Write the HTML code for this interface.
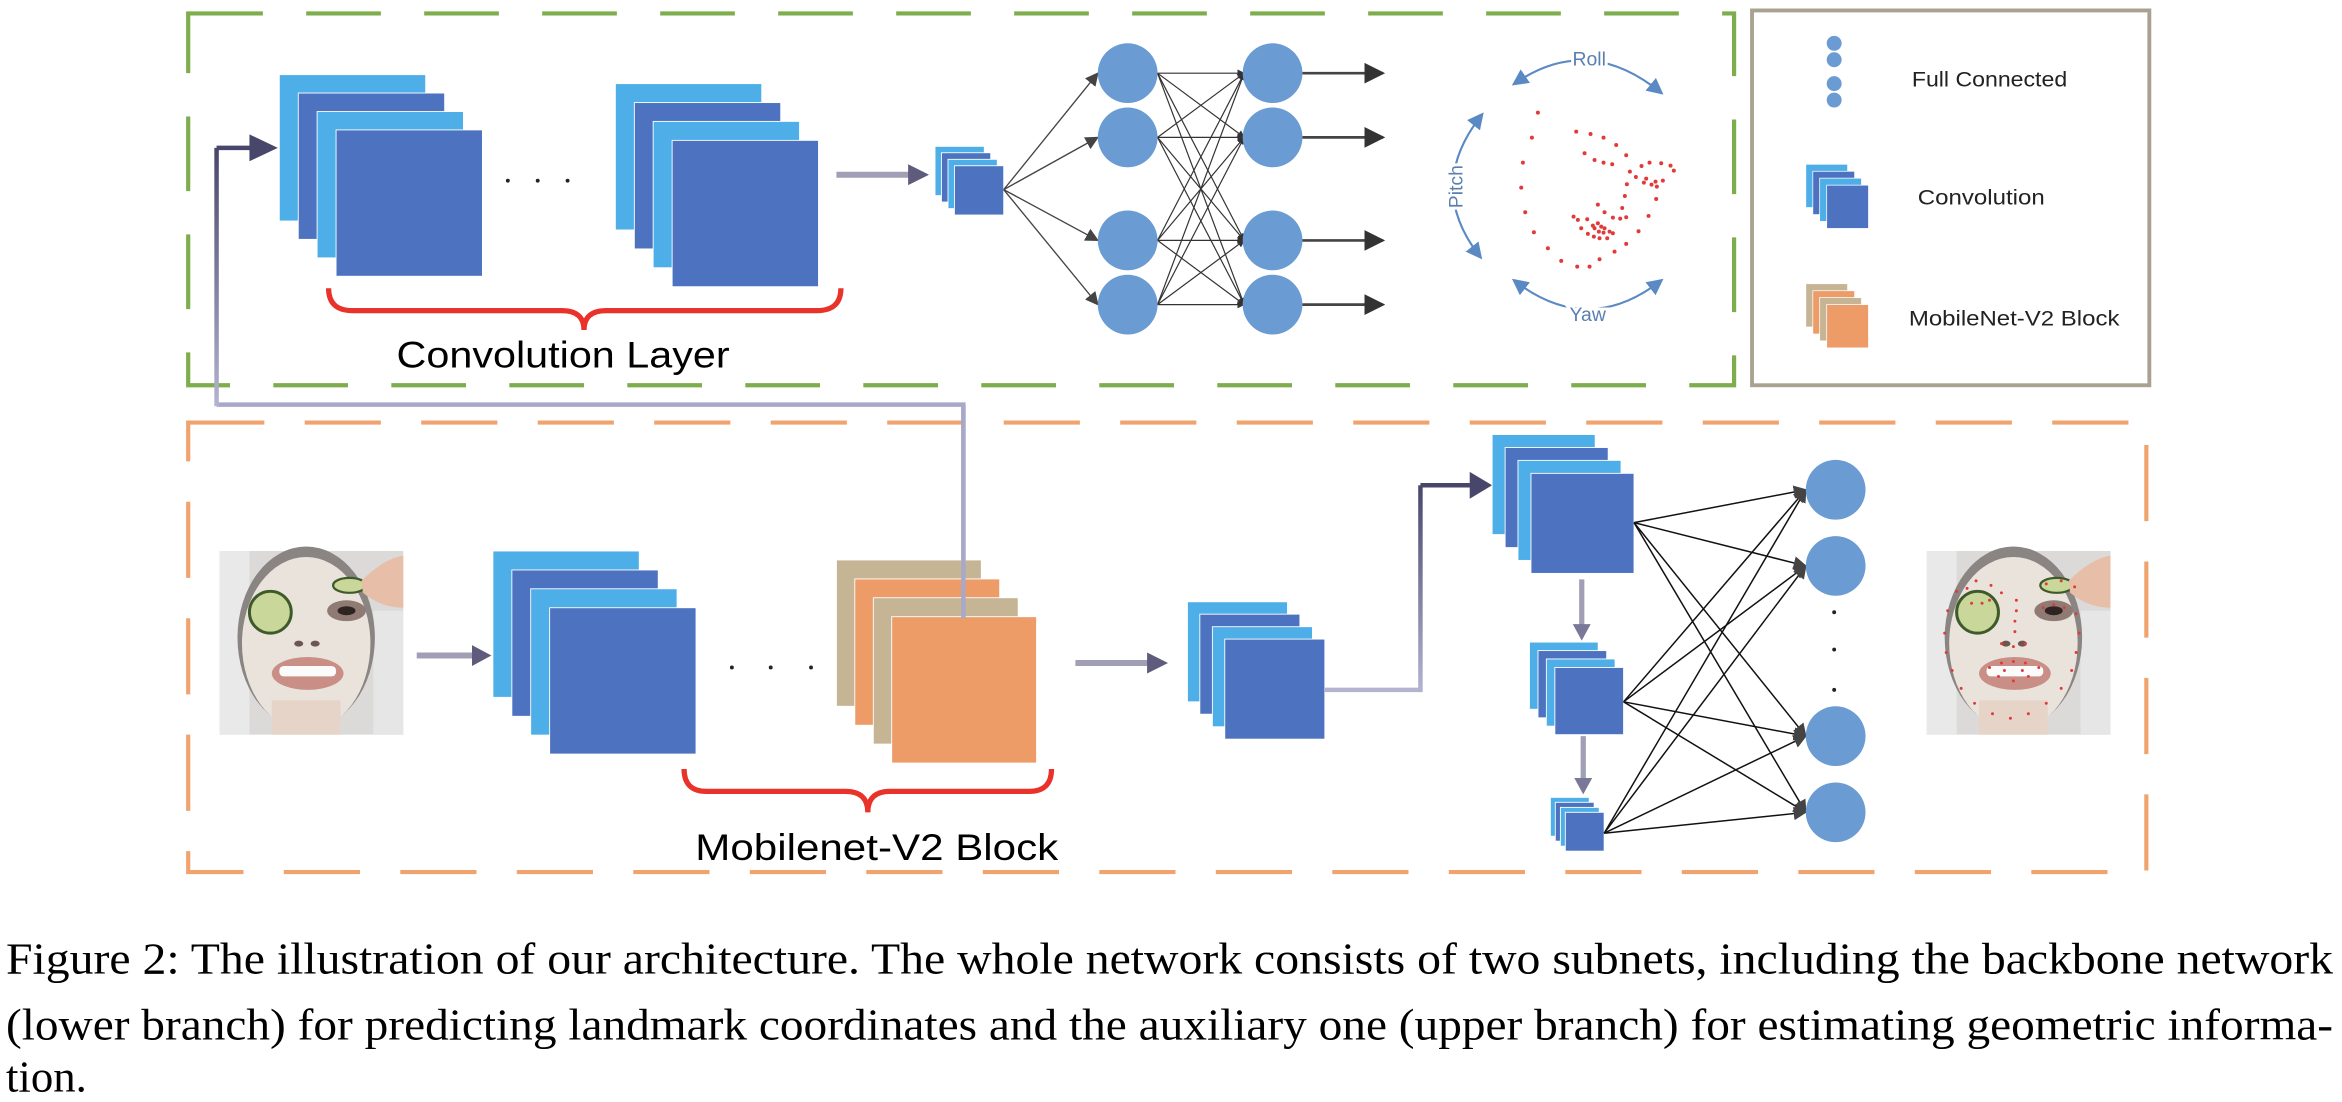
<!DOCTYPE html>
<html><head><meta charset="utf-8"><style>html,body{margin:0;padding:0;background:#fff}svg{display:block}</style></head>
<body>
<svg width="2342" height="1102" viewBox="0 0 1568 738" preserveAspectRatio="none" xmlns="http://www.w3.org/2000/svg">
<defs>
<marker id="ah" viewBox="0 0 10 10" refX="9" refY="5" markerWidth="5" markerHeight="5" orient="auto" markerUnits="userSpaceOnUse"><path d="M0,0 L10,5 L0,10 z" fill="#333"/></marker>
<marker id="ahs" viewBox="0 0 10 10" refX="9" refY="5" markerWidth="9" markerHeight="9" orient="auto" markerUnits="userSpaceOnUse"><path d="M0,0 L10,5 L0,10 z" fill="#444"/></marker>
<marker id="ahb" viewBox="0 0 10 10" refX="9" refY="5" markerWidth="14" markerHeight="14" orient="auto" markerUnits="userSpaceOnUse"><path d="M0,0 L10,5 L0,10 z" fill="#333"/></marker>
<marker id="ahblue" viewBox="0 0 10 10" refX="8" refY="5" markerWidth="11" markerHeight="11" orient="auto-start-reverse" markerUnits="userSpaceOnUse"><path d="M0,0 L10,5 L0,10 z" fill="#5a89c4"/></marker>
<linearGradient id="gv" x1="0" y1="1" x2="0" y2="0"><stop offset="0" stop-color="#b4b3d0"/><stop offset="1" stop-color="#48466b"/></linearGradient>
<linearGradient id="gv2" x1="0" y1="0" x2="0" y2="1"><stop offset="0" stop-color="#48466b"/><stop offset="1" stop-color="#b4b3d0"/></linearGradient>
<g id="face">
  <rect x="0" y="0" width="123" height="123" fill="#dcdad9"/>
  <rect x="0" y="0" width="20" height="123" fill="#e9e9e9"/>
  <rect x="103" y="40" width="20" height="83" fill="#e6e6e6"/>
  <ellipse cx="58" cy="58" rx="46" ry="61" fill="#8a8482"/>
  <ellipse cx="58" cy="62" rx="43" ry="58" fill="#e9e3dc"/>
  <rect x="35" y="100" width="46" height="23" fill="#e6d4c8"/>
  <circle cx="34" cy="41" r="14" fill="#c9d79b" stroke="#3f5a2a" stroke-width="2"/>
  <ellipse cx="87" cy="23" rx="11" ry="5" fill="#c9d79b" stroke="#3f5a2a" stroke-width="1.5"/>
  <path d="M95,20 Q110,5 123,3 L123,38 Q108,38 96,28 z" fill="#e7bfa8"/>
  <ellipse cx="85" cy="40" rx="13" ry="7" fill="#8f7a74"/>
  <ellipse cx="85" cy="40" rx="6" ry="3" fill="#2e2422"/>
  <ellipse cx="53" cy="62" rx="3" ry="2" fill="#6d5550"/><ellipse cx="64" cy="62" rx="3" ry="2" fill="#6d5550"/>
  <ellipse cx="59" cy="82" rx="24" ry="11" fill="#c98f86"/>
  <rect x="40" y="77" width="38" height="7" rx="3" fill="#fbfbfb"/>
</g>
</defs>
<rect width="1568" height="738" fill="#fff"/>

<rect x="126" y="9" width="1035" height="249" fill="none" stroke="#7dad4c" stroke-width="2.8" stroke-dasharray="50 29"/>
<rect x="1173" y="7" width="266" height="251" fill="none" stroke="#aaa290" stroke-width="2.6"/>
<rect x="126" y="283" width="1311" height="301" fill="none" stroke="#f0a36e" stroke-width="2.8" stroke-dasharray="51 27"/>

<path d="M645,414 L645,271 L145,271" fill="none" stroke="#aaa8c8" stroke-width="3"/>
<rect x="143.5" y="99" width="3" height="173" fill="url(#gv)"/>
<path d="M145,99 L168,99" stroke="#48466b" stroke-width="3"/>
<path d="M167,90 L186,99 L167,108 z" fill="#48466b"/>

<g stroke="#fff" stroke-width="0.6">
<rect x="187" y="50" width="98" height="98" fill="#4daee8"/>
<rect x="199.7" y="62.3" width="98" height="98" fill="#4d72bf"/>
<rect x="212.3" y="74.7" width="98" height="98" fill="#4daee8"/>
<rect x="225" y="87" width="98" height="98" fill="#4d72bf"/>
<rect x="412" y="56" width="98" height="98" fill="#4daee8"/>
<rect x="424.7" y="68.7" width="98" height="98" fill="#4d72bf"/>
<rect x="437.3" y="81.3" width="98" height="98" fill="#4daee8"/>
<rect x="450" y="94" width="98" height="98" fill="#4d72bf"/>
<rect x="626" y="98" width="33" height="33" fill="#4daee8"/>
<rect x="630.3" y="102.3" width="33" height="33" fill="#4d72bf"/>
<rect x="634.7" y="106.7" width="33" height="33" fill="#4daee8"/>
<rect x="639" y="111" width="33" height="33" fill="#4d72bf"/>
</g>
<g fill="#222"><circle cx="340" cy="121" r="1.3"/><circle cx="360" cy="121" r="1.3"/><circle cx="380" cy="121" r="1.3"/></g>
<path d="M220,193 Q220,208 236,208 L376,208 Q391,208 391,221 Q391,208 406,208 L547,208 Q563,208 563,193" fill="none" stroke="#e8322a" stroke-width="3.5"/>
<text x="377" y="246" font-family="Liberation Sans, sans-serif" font-size="25" text-anchor="middle" textLength="223" lengthAdjust="spacingAndGlyphs">Convolution Layer</text>

<path d="M560,117 L610,117" stroke="#a09fb5" stroke-width="4"/>
<path d="M608,110 L622,117 L608,124 z" fill="#5e5b7c"/>

<g stroke="#444" stroke-width="0.9" fill="none" marker-end="url(#ahs)">
<path d="M672,127 L735,49"/><path d="M672,127 L735,92"/><path d="M672,127 L735,161"/><path d="M672,127 L735,204"/>
</g>
<g stroke="#333" stroke-width="0.8" fill="none" marker-end="url(#ah)">
<path d="M775,49 L833,49"/><path d="M775,49 L833,92"/><path d="M775,49 L833,161"/><path d="M775,49 L833,204"/>
<path d="M775,92 L833,49"/><path d="M775,92 L833,92"/><path d="M775,92 L833,161"/><path d="M775,92 L833,204"/>
<path d="M775,161 L833,49"/><path d="M775,161 L833,92"/><path d="M775,161 L833,161"/><path d="M775,161 L833,204"/>
<path d="M775,204 L833,49"/><path d="M775,204 L833,92"/><path d="M775,204 L833,161"/><path d="M775,204 L833,204"/>
</g>
<g fill="#6a9bd2">
<circle cx="755" cy="49" r="20"/><circle cx="755" cy="92" r="20"/><circle cx="755" cy="161" r="20"/><circle cx="755" cy="204" r="20"/>
<circle cx="852" cy="49" r="20"/><circle cx="852" cy="92" r="20"/><circle cx="852" cy="161" r="20"/><circle cx="852" cy="204" r="20"/>
</g>
<g stroke="#444" stroke-width="1.8" marker-end="url(#ahb)">
<path d="M872,49 L926,49"/><path d="M872,92 L926,92"/><path d="M872,161 L926,161"/><path d="M872,204 L926,204"/>
</g>

<g fill="none" stroke="#5a89c4" stroke-width="1.4" marker-start="url(#ahblue)" marker-end="url(#ahblue)">
<path d="M1014,56 Q1063,22 1112,62"/>
<path d="M992,77 Q954,125 991,172"/>
<path d="M1014,188 Q1063,226 1112,188"/>
</g>
<g font-family="Liberation Sans, sans-serif" font-size="13" fill="#5a7fb0" text-anchor="middle" stroke="#fff" stroke-width="4" paint-order="stroke">
<text x="1064" y="44">Roll</text>
<text x="1063" y="215">Yaw</text>
<text x="0" y="0" transform="translate(979,125) rotate(-90)">Pitch</text>
</g>
<g transform="translate(990.6,40.2) scale(0.2231)" fill="#e23a3a">
<circle cx="175" cy="158" r="6"/><circle cx="157" cy="233" r="6"/><circle cx="130" cy="308" r="6"/><circle cx="125" cy="383" r="6"/><circle cx="137" cy="457" r="6"/><circle cx="163" cy="517" r="6"/><circle cx="205" cy="565" r="6"/><circle cx="245" cy="603" r="6"/><circle cx="293" cy="620" r="6"/><circle cx="330" cy="620" r="6"/><circle cx="360" cy="598" r="6"/><circle cx="405" cy="575" r="6"/><circle cx="440" cy="552" r="6"/><circle cx="477" cy="514" r="6"/><circle cx="507" cy="468" r="6"/><circle cx="530" cy="417" r="6"/><circle cx="550" cy="362" r="6"/><circle cx="583" cy="332" r="6"/><circle cx="573" cy="317" r="6"/><circle cx="545" cy="310" r="6"/><circle cx="510" cy="308" r="6"/><circle cx="486" cy="318" r="6"/><circle cx="469" cy="351" r="6"/><circle cx="451" cy="335" r="6"/><circle cx="440" cy="286" r="6"/><circle cx="410" cy="255" r="6"/><circle cx="372" cy="233" r="6"/><circle cx="333" cy="222" r="6"/><circle cx="290" cy="215" r="6"/><circle cx="315" cy="280" r="6"/><circle cx="345" cy="300" r="6"/><circle cx="372" cy="308" r="6"/><circle cx="398" cy="313" r="6"/><circle cx="442" cy="373" r="6"/><circle cx="436" cy="408" r="6"/><circle cx="428" cy="444" r="6"/><circle cx="440" cy="472" r="6"/><circle cx="422" cy="476" r="6"/><circle cx="400" cy="473" r="6"/><circle cx="375" cy="457" r="6"/><circle cx="355" cy="434" r="6"/><circle cx="493" cy="368" r="6"/><circle cx="500" cy="356" r="6"/><circle cx="516" cy="374" r="6"/><circle cx="532" cy="380" r="6"/><circle cx="528" cy="365" r="6"/><circle cx="282" cy="470" r="6"/><circle cx="295" cy="480" r="6"/><circle cx="323" cy="478" r="6"/><circle cx="305" cy="505" r="6"/><circle cx="325" cy="522" r="6"/><circle cx="343" cy="530" r="6"/><circle cx="360" cy="535" r="6"/><circle cx="383" cy="535" r="6"/><circle cx="400" cy="520" r="6"/><circle cx="355" cy="490" r="6"/><circle cx="345" cy="505" r="6"/><circle cx="365" cy="500" r="6"/><circle cx="375" cy="505" r="6"/><circle cx="390" cy="515" r="6"/><circle cx="358" cy="515" r="6"/><circle cx="372" cy="518" r="6"/><circle cx="340" cy="497" r="6"/>
</g>

<g fill="#6a9bd2"><circle cx="1228" cy="29" r="5"/><circle cx="1228" cy="40" r="5"/><circle cx="1228" cy="56" r="5"/><circle cx="1228" cy="67" r="5"/></g>
<g stroke="#fff" stroke-width="0.5">
<rect x="1209" y="110" width="28" height="29" fill="#4daee8"/>
<rect x="1213.7" y="114.7" width="28" height="29" fill="#4d72bf"/>
<rect x="1218.3" y="119.3" width="28" height="29" fill="#4daee8"/>
<rect x="1223" y="124" width="28" height="29" fill="#4d72bf"/>
<rect x="1209" y="190" width="28" height="29" fill="#c6b595"/>
<rect x="1213.7" y="194.7" width="28" height="29" fill="#ed9c68"/>
<rect x="1218.3" y="199.3" width="28" height="29" fill="#c6b595"/>
<rect x="1223" y="204" width="28" height="29" fill="#ed9c68"/>
</g>
<g font-family="Liberation Sans, sans-serif" font-size="14.5" fill="#222">
<text x="1280" y="58" textLength="104" lengthAdjust="spacingAndGlyphs">Full Connected</text>
<text x="1284" y="137" textLength="85" lengthAdjust="spacingAndGlyphs">Convolution</text>
<text x="1278" y="218" textLength="141" lengthAdjust="spacingAndGlyphs">MobileNet-V2 Block</text>
</g>

<use href="#face" x="147" y="369"/>
<path d="M279,439 L318,439" stroke="#a09fb5" stroke-width="4"/>
<path d="M316,432 L329,439 L316,446 z" fill="#5e5b7c"/>
<g stroke="#fff" stroke-width="0.6">
<rect x="330" y="369" width="98" height="98" fill="#4daee8"/>
<rect x="342.7" y="381.7" width="98" height="98" fill="#4d72bf"/>
<rect x="355.3" y="394.3" width="98" height="98" fill="#4daee8"/>
<rect x="368" y="407" width="98" height="98" fill="#4d72bf"/>
<rect x="560" y="375" width="97" height="98" fill="#c6b595"/>
<rect x="572.3" y="387.7" width="97" height="98" fill="#ed9c68"/>
<rect x="584.7" y="400.3" width="97" height="98" fill="#c6b595"/>
<rect x="597" y="413" width="97" height="98" fill="#ed9c68"/>
</g>
<path d="M645,271 L645,414" stroke="#aaa8c8" stroke-width="3"/>
<g fill="#222"><circle cx="490" cy="447" r="1.3"/><circle cx="516" cy="447" r="1.3"/><circle cx="543" cy="447" r="1.3"/></g>
<path d="M458,515 Q458,530 473,530 L566,530 Q581,530 581,544 Q581,530 596,530 L689,530 Q704,530 704,515" fill="none" stroke="#e8322a" stroke-width="3.5"/>
<text x="587" y="576" font-family="Liberation Sans, sans-serif" font-size="25" text-anchor="middle" textLength="243" lengthAdjust="spacingAndGlyphs">Mobilenet-V2 Block</text>

<path d="M720,444 L770,444" stroke="#a09fb5" stroke-width="4"/>
<path d="M768,437 L782,444 L768,451 z" fill="#5e5b7c"/>
<g stroke="#fff" stroke-width="0.6">
<rect x="795" y="403" width="67" height="67" fill="#4daee8"/>
<rect x="803.3" y="411.3" width="67" height="67" fill="#4d72bf"/>
<rect x="811.7" y="419.7" width="67" height="67" fill="#4daee8"/>
<rect x="820" y="428" width="67" height="67" fill="#4d72bf"/>
</g>
<path d="M887,462 L951,462" stroke="#b4b3d0" stroke-width="3"/>
<rect x="949.5" y="325" width="3" height="138.5" fill="url(#gv2)"/>
<path d="M951,325 L985,325" stroke="#48466b" stroke-width="3"/>
<path d="M984,316 L999,325 L984,334 z" fill="#48466b"/>

<g stroke="#fff" stroke-width="0.6">
<rect x="999" y="291" width="69" height="67" fill="#4daee8"/>
<rect x="1007.7" y="299.7" width="69" height="67" fill="#4d72bf"/>
<rect x="1016.3" y="308.3" width="69" height="67" fill="#4daee8"/>
<rect x="1025" y="317" width="69" height="67" fill="#4d72bf"/>
<rect x="1024" y="430" width="46" height="45" fill="#4daee8"/>
<rect x="1029.7" y="435.7" width="46" height="45" fill="#4d72bf"/>
<rect x="1035.3" y="441.3" width="46" height="45" fill="#4daee8"/>
<rect x="1041" y="447" width="46" height="45" fill="#4d72bf"/>
<rect x="1038" y="534" width="26" height="26" fill="#4daee8"/>
<rect x="1041.3" y="537.3" width="26" height="26" fill="#4d72bf"/>
<rect x="1044.7" y="540.7" width="26" height="26" fill="#4daee8"/>
<rect x="1048" y="544" width="26" height="26" fill="#4d72bf"/>
</g>
<path d="M1059,388 L1059,420" stroke="#a09fb5" stroke-width="3.5"/><path d="M1053,418 L1059,429 L1065,418 z" fill="#7a7898"/>
<path d="M1060,493 L1060,523" stroke="#a09fb5" stroke-width="3.5"/><path d="M1054,521 L1060,532 L1066,521 z" fill="#7a7898"/>

<g stroke="#111" stroke-width="1" fill="none" marker-end="url(#ahs)">
<path d="M1094,350 L1209,328"/><path d="M1094,350 L1209,379"/><path d="M1094,350 L1209,493"/><path d="M1094,350 L1209,544"/>
<path d="M1087,470 L1209,328"/><path d="M1087,470 L1209,379"/><path d="M1087,470 L1209,493"/><path d="M1087,470 L1209,544"/>
<path d="M1074,558 L1209,328"/><path d="M1074,558 L1209,379"/><path d="M1074,558 L1209,493"/><path d="M1074,558 L1209,544"/>
</g>
<g fill="#6a9bd2"><circle cx="1229" cy="328" r="20"/><circle cx="1229" cy="379" r="20"/><circle cx="1229" cy="493" r="20"/><circle cx="1229" cy="544" r="20"/></g>
<g fill="#222"><circle cx="1228" cy="410" r="1.3"/><circle cx="1228" cy="435" r="1.3"/><circle cx="1228" cy="462" r="1.3"/></g>

<use href="#face" x="1290" y="369"/>
<g fill="#e23a3a" transform="translate(1290,369)">
<circle cx="27" cy="25" r="1"/><circle cx="33" cy="20" r="1"/><circle cx="43" cy="23" r="1"/><circle cx="50" cy="28" r="1"/><circle cx="20" cy="27" r="1"/><circle cx="14" cy="40" r="1"/><circle cx="12" cy="55" r="1"/><circle cx="13" cy="68" r="1"/><circle cx="17" cy="80" r="1"/><circle cx="23" cy="92" r="1"/><circle cx="32" cy="102" r="1"/><circle cx="44" cy="109" r="1"/><circle cx="56" cy="112" r="1"/><circle cx="68" cy="109" r="1"/><circle cx="80" cy="102" r="1"/><circle cx="90" cy="92" r="1"/><circle cx="97" cy="80" r="1"/><circle cx="100" cy="68" r="1"/><circle cx="102" cy="55" r="1"/><circle cx="100" cy="42" r="1"/><circle cx="60" cy="33" r="1"/><circle cx="60" cy="40" r="1"/><circle cx="59" cy="47" r="1"/><circle cx="59" cy="54" r="1"/><circle cx="50" cy="62" r="1"/><circle cx="58" cy="64" r="1"/><circle cx="66" cy="62" r="1"/><circle cx="37" cy="35" r="1"/><circle cx="42" cy="33" r="1"/><circle cx="30" cy="35" r="1"/><circle cx="78" cy="38" r="1"/><circle cx="85" cy="36" r="1"/><circle cx="92" cy="38" r="1"/><circle cx="80" cy="22" r="1"/><circle cx="90" cy="20" r="1"/><circle cx="99" cy="24" r="1"/><circle cx="42" cy="78" r="1"/><circle cx="50" cy="75" r="1"/><circle cx="58" cy="74" r="1"/><circle cx="66" cy="75" r="1"/><circle cx="75" cy="78" r="1"/><circle cx="48" cy="84" r="1"/><circle cx="58" cy="87" r="1"/><circle cx="68" cy="84" r="1"/><circle cx="52" cy="80" r="1"/><circle cx="64" cy="80" r="1"/>
</g>

<g font-family="Liberation Serif, serif" font-size="30" fill="#000">
<text x="4" y="652" textLength="1558" lengthAdjust="spacingAndGlyphs">Figure 2: The illustration of our architecture. The whole network consists of two subnets, including the backbone network</text>
<text x="4" y="696" textLength="1558" lengthAdjust="spacingAndGlyphs">(lower branch) for predicting landmark coordinates and the auxiliary one (upper branch) for estimating geometric informa-</text>
<text x="4" y="731">tion.</text>
</g>
</svg>
</body></html>
